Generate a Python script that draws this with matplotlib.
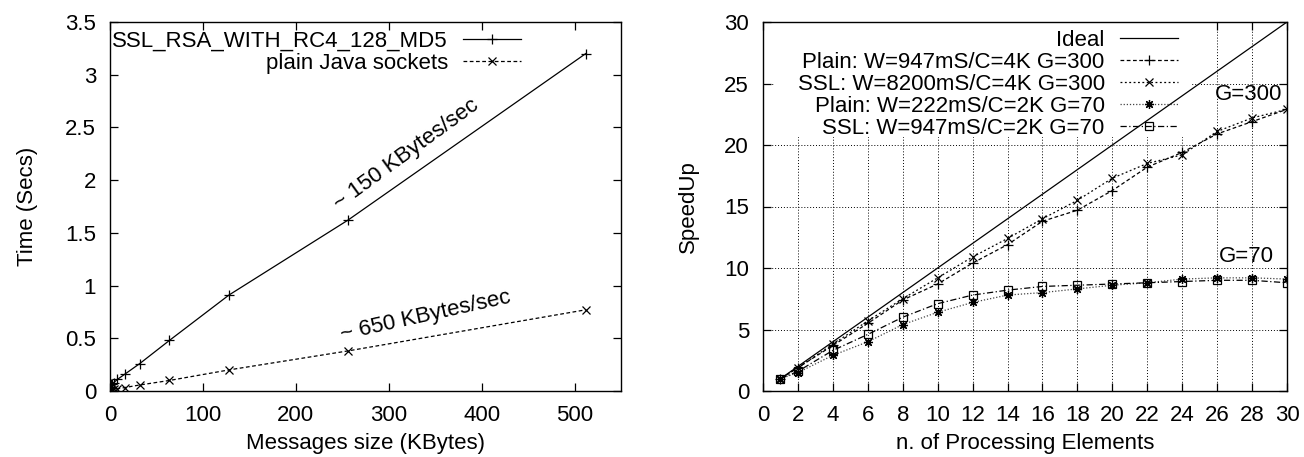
import matplotlib
matplotlib.use("Agg")
import matplotlib.pyplot as plt
from matplotlib.patches import Rectangle

plt.rcParams['font.family'] = ['Liberation Sans', 'DejaVu Sans']
FS = 16

# ---- left chart data ----
msg_size = [0.5, 1, 2, 4, 8, 16, 32, 64, 128, 256, 512]
ssl_time = [0.06, 0.065, 0.07, 0.08, 0.11, 0.16, 0.26, 0.48, 0.91, 1.62, 3.2]
plain_time = [0.005, 0.008, 0.01, 0.015, 0.02, 0.033, 0.057, 0.10, 0.20, 0.38, 0.77]
left_labels = ["SSL_RSA_WITH_RC4_128_MD5", "plain Java sockets"]

# ---- right chart data ----
pe = [1, 2, 4, 6, 8, 10, 12, 14, 16, 18, 20, 22, 24, 26, 28, 30]
ideal = [1, 2, 4, 6, 8, 10, 12, 14, 16, 18, 20, 22, 24, 26, 28, 30]
plain_g300 = [1, 1.9, 3.7, 5.5, 7.4, 8.7, 10.4, 11.9, 13.8, 14.7, 16.3, 18.2, 19.4, 20.9, 21.9, 22.9]
ssl_g300 = [1, 1.9, 3.8, 5.7, 7.5, 9.2, 10.9, 12.4, 14.0, 15.5, 17.3, 18.5, 19.2, 21.1, 22.2, 22.9]
plain_g70 = [1, 1.5, 2.9, 4.0, 5.4, 6.4, 7.2, 7.8, 8.0, 8.3, 8.6, 8.8, 9.1, 9.2, 9.2, 9.1]
ssl_g70 = [1, 1.6, 3.3, 4.6, 6.0, 7.1, 7.8, 8.2, 8.5, 8.6, 8.7, 8.8, 8.9, 9.0, 9.0, 8.8]
right_labels = ["Ideal", "Plain: W=947mS/C=4K G=300", "SSL: W=8200mS/C=4K G=300",
                "Plain: W=222mS/C=2K G=70", "SSL: W=947mS/C=2K G=70"]

W, H = 1304, 457
fig = plt.figure(figsize=(W / 100, H / 100), dpi=100)
ax1 = fig.add_axes([110 / W, 66 / H, 511 / W, 369 / H])
ax2 = fig.add_axes([763 / W, 66 / H, 524 / W, 369 / H])

lw = 0.9
for ax in (ax1, ax2):
    ax.tick_params(direction='in', top=True, right=True, length=6, width=0.9,
                   labelsize=FS)
    ax.tick_params(axis='x', pad=10)
    ax.tick_params(axis='y', pad=10)
    for s in ax.spines.values():
        s.set_linewidth(1.0)

# left
ax1.plot(msg_size, ssl_time, color='black', lw=lw, ls='-', marker='+', ms=7, mew=0.9,
         label=left_labels[0])
ax1.plot(msg_size, plain_time, color='black', lw=lw, ls=(0, (3, 2)), marker='x', ms=5.5, mew=0.9,
         label=left_labels[1])
ax1.set_xlim(0, 550)
ax1.set_ylim(0, 3.5)
ax1.set_xticks([0, 100, 200, 300, 400, 500])
ax1.set_yticks([0, 0.5, 1, 1.5, 2, 2.5, 3, 3.5])
ax1.set_yticklabels(['0', '0.5', '1', '1.5', '2', '2.5', '3', '3.5'])
ax1.set_xlabel("Messages size (KBytes)", fontsize=FS, labelpad=5)
ax1.set_ylabel("Time (Secs)", fontsize=FS, labelpad=19.5)
ax1.text(247, 1.72, "~ 150 KBytes/sec", fontsize=FS, rotation=36,
         rotation_mode='anchor', ha='left', va='baseline')
ax1.text(250, 0.48, "~ 650 KBytes/sec", fontsize=FS, rotation=12.5,
         rotation_mode='anchor', ha='left', va='baseline')

# right
ax2.plot(pe, ideal, color='black', lw=lw, ls='-', label=right_labels[0])
ax2.plot(pe, plain_g300, color='black', lw=lw, ls=(0, (3, 2)), marker='+', ms=7, mew=0.9,
         label=right_labels[1])
ax2.plot(pe, ssl_g300, color='black', lw=lw, ls=(0, (1.5, 2)), marker='x', ms=5.5, mew=0.9,
         label=right_labels[2])
ax2.plot(pe, plain_g70, color='#444444', lw=lw, ls=(0, (1, 1.5)), marker=(8, 2, 0), ms=6.5,
         mew=0.9, mec='black', label=right_labels[3])
ax2.plot(pe, ssl_g70, color='black', lw=lw, ls=(0, (5, 2, 1, 2)), marker='s', ms=5.5,
         mfc='none', mec='black', mew=0.9, label=right_labels[4])
ax2.set_xlim(0, 30)
ax2.set_ylim(0, 30)
ax2.set_xticks(range(0, 31, 2))
ax2.set_yticks(range(0, 31, 5))
ax2.grid(True, color='black', lw=0.7, ls=(0, (1, 2)))
ax2.set_axisbelow(True)
ax2.set_xlabel("n. of Processing Elements", fontsize=FS, labelpad=5)
ax2.set_ylabel("SpeedUp", fontsize=FS, labelpad=18)
ax2.text(27.8, 24.1, "G=300", fontsize=FS, ha='center', va='center')
ax2.text(27.7, 10.9, "G=70", fontsize=FS, ha='center', va='center')

FS_PX = FS * 100 / 72.0


def place_legend(ax, first_row_px, pitch_px, right_px, **kw):
    """Fit legend so that sample lines sit at given pixel rows (from top)."""
    ls, xa, ya = 0.0, 0.8, 1.0
    pos = ax.get_position()
    ax_w, ax_h = pos.width * W, pos.height * H
    leg = None
    for _ in range(5):
        leg = ax.legend(loc='upper right', bbox_to_anchor=(xa, ya), markerfirst=False,
                        fontsize=FS, borderaxespad=0, labelspacing=ls, **kw)
        fig.canvas.draw()
        r = fig.canvas.get_renderer()
        hs = leg.legend_handles
        ys = []
        for h in hs:
            e = h.get_window_extent(r)
            ys.append(H - (e.y0 + e.y1) / 2)
        x1 = hs[0].get_window_extent(r).x1
        n = len(ys)
        pitch = (ys[-1] - ys[0]) / (n - 1)
        ls += (pitch_px - pitch) / FS_PX
        ya += (ys[0] - first_row_px) / ax_h
        xa += (right_px - x1) / ax_w
    return leg


place_legend(ax1, 39, 22, 526, frameon=False, borderpad=0,
             handlelength=2.6, handletextpad=0.7)

leg2 = place_legend(ax2, 38, 22, 1178, frameon=False, borderpad=0,
                    handlelength=2.6, handletextpad=0.7)
leg2.set_zorder(1)
# opaque white key box (gnuplot "key opaque") behind curves, above grid
bx0, bx1 = 774, 1192
by_top, by_bot = 22, 137
ax_pos = ax2.get_position()
x0f = (bx0 / W - ax_pos.x0) / ax_pos.width
x1f = (bx1 / W - ax_pos.x0) / ax_pos.width
y0f = ((H - by_bot) / H - ax_pos.y0) / ax_pos.height
y1f = ((H - by_top) / H - ax_pos.y0) / ax_pos.height
ax2.add_patch(Rectangle((x0f, y0f), x1f - x0f, y1f - y0f, transform=ax2.transAxes,
                        facecolor='white', edgecolor='none', zorder=0.9))

fig.savefig("out.png", dpi=100)
